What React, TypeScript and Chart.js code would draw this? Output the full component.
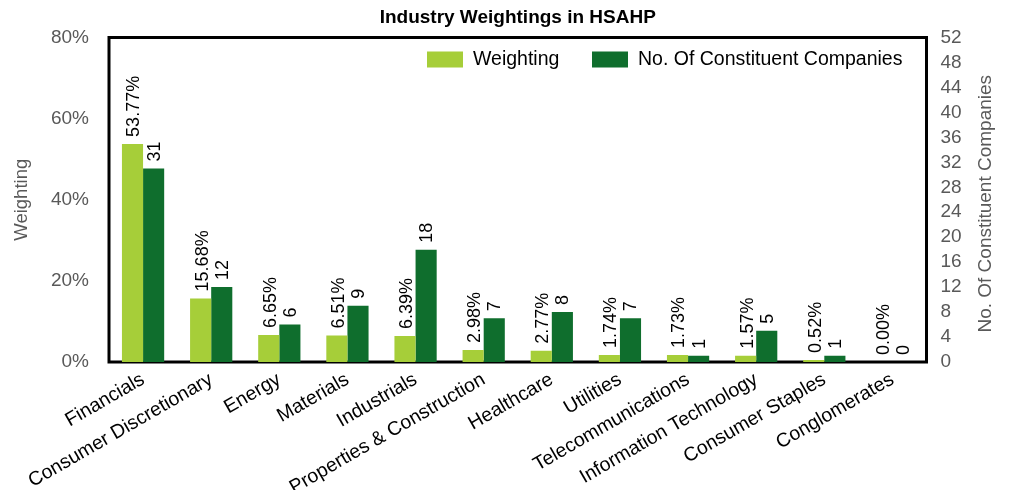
import React, { useEffect, useRef } from "react";
import { Chart, registerables } from "chart.js";

Chart.register(...registerables);

const categories = [
  "Financials",
  "Consumer Discretionary",
  "Energy",
  "Materials",
  "Industrials",
  "Properties & Construction",
  "Healthcare",
  "Utilities",
  "Telecommunications",
  "Information Technology",
  "Consumer Staples",
  "Conglomerates",
];
const weighting = [53.77, 15.68, 6.65, 6.51, 6.39, 2.98, 2.77, 1.74, 1.73, 1.57, 0.52, 0.0];
const companies = [31, 12, 6, 9, 18, 7, 8, 7, 1, 5, 1, 0];
const weightingMax = 80;
const weightingStep = 20;
const companiesMax = 52;
const companiesStep = 4;

const LIGHT = "#a6ce39";
const DARK = "#0f6e2d";
const FONT = "Liberation Sans, Arial, sans-serif";
const GRAY = "#595959";

const frameAndLabels = {
  id: "frameAndLabels",
  beforeDatasetsDraw(chart: any) {
    const { ctx, chartArea } = chart;
    ctx.save();
    ctx.strokeStyle = "#000";
    ctx.lineWidth = 3;
    ctx.strokeRect(chartArea.left, chartArea.top, chartArea.right - chartArea.left, chartArea.bottom - chartArea.top);
    ctx.restore();
  },
  afterDatasetsDraw(chart: any) {
    const { ctx } = chart;
    ctx.save();
    ctx.font = `18px ${FONT}`;
    ctx.fillStyle = "#000";
    ctx.textAlign = "left";
    ctx.textBaseline = "middle";
    chart.data.datasets.forEach((ds: any, di: number) => {
      const meta = chart.getDatasetMeta(di);
      meta.data.forEach((el: any, i: number) => {
        const v = ds.data[i];
        const text = di === 0 ? v.toFixed(2) + "%" : String(v);
        ctx.save();
        ctx.translate(el.x + (di === 0 ? 2 : 1), el.y - 7);
        ctx.rotate(-Math.PI / 2);
        ctx.fillText(text, 0, 0);
        ctx.restore();
      });
    });
    ctx.restore();
  },
  afterDraw(chart: any) {
    const { ctx, chartArea } = chart;
    // chart title
    ctx.save();
    ctx.font = `bold 19px ${FONT}`;
    ctx.fillStyle = "#000";
    ctx.textAlign = "center";
    ctx.textBaseline = "middle";
    ctx.fillText("Industry Weightings in HSAHP", (chartArea.left + chartArea.right) / 2, 18);
    ctx.restore();

    // right axis title
    ctx.save();
    ctx.font = `19px ${FONT}`;
    ctx.fillStyle = GRAY;
    ctx.textAlign = "center";
    ctx.textBaseline = "middle";
    ctx.translate(986, (chartArea.top + chartArea.bottom) / 2 + 4);
    ctx.rotate(-Math.PI / 2);
    ctx.fillText("No. Of Constituent Companies", 0, 0);
    ctx.restore();

    // legend
    ctx.save();
    ctx.font = `19.5px ${FONT}`;
    ctx.textBaseline = "middle";
    ctx.textAlign = "left";
    const items = [
      { label: chart.data.datasets[0].label, color: LIGHT, x: 427 },
      { label: chart.data.datasets[1].label, color: DARK, x: 592 },
    ];
    const y = chartArea.top + 14;
    items.forEach((it) => {
      ctx.fillStyle = it.color;
      ctx.fillRect(it.x, y, 36, 16);
      ctx.fillStyle = "#000";
      ctx.fillText(it.label, it.x + 46, y + 8);
    });
    ctx.restore();
  },
};

export default function App() {
  const ref = useRef<HTMLCanvasElement | null>(null);
  useEffect(() => {
    if (!ref.current) return;
    const chart = new Chart(ref.current, {
      type: "bar",
      data: {
        labels: categories,
        datasets: [
          {
            label: "Weighting",
            data: weighting,
            backgroundColor: LIGHT,
            yAxisID: "y",
            categoryPercentage: 0.62,
            barPercentage: 1,
          },
          {
            label: "No. Of Constituent Companies",
            data: companies,
            backgroundColor: DARK,
            yAxisID: "y1",
            categoryPercentage: 0.62,
            barPercentage: 1,
          },
        ],
      },
      options: {
        responsive: false,
        animation: false,
        layout: { padding: { top: 37.5, left: 0, right: 0, bottom: 0 } },
        plugins: {
          legend: { display: false },
          tooltip: { enabled: false },
          title: { display: false },
        },
        scales: {
          x: {
            grid: { display: false, drawTicks: false },
            border: { display: false },
            ticks: {
              color: "#000",
              font: { family: FONT, size: 19.5 },
              maxRotation: 30,
              minRotation: 30,
              autoSkip: false,
              padding: 6,
            },
            afterFit: (s: any) => {
              s.height = 128;
            },
          },
          y: {
            position: "left",
            min: 0,
            max: weightingMax,
            grid: { display: false, drawTicks: false },
            border: { display: false },
            ticks: {
              stepSize: weightingStep,
              autoSkip: false,
              color: GRAY,
              font: { family: FONT, size: 19 },
              padding: 20,
              callback: (v: any) => v + "%",
            },
            title: {
              display: true,
              text: "Weighting",
              color: GRAY,
              font: { family: FONT, size: 18.5 },
              padding: { top: 11, bottom: 0 },
            },
            afterFit: (s: any) => {
              s.width = 109;
            },
          },
          y1: {
            position: "right",
            min: 0,
            max: companiesMax,
            grid: { display: false, drawTicks: false },
            border: { display: false },
            ticks: {
              stepSize: companiesStep,
              autoSkip: false,
              color: GRAY,
              font: { family: FONT, size: 19 },
              padding: 14,
            },
            afterFit: (s: any) => {
              s.width = 83.5;
            },
          },
        },
      },
      plugins: [frameAndLabels],
    });
    return () => chart.destroy();
  }, []);
  return (
    <canvas
      ref={ref}
      width={1010}
      height={490}
      style={{ position: "absolute", left: 0, top: 0, width: 1010, height: 490 }}
    />
  );
}
